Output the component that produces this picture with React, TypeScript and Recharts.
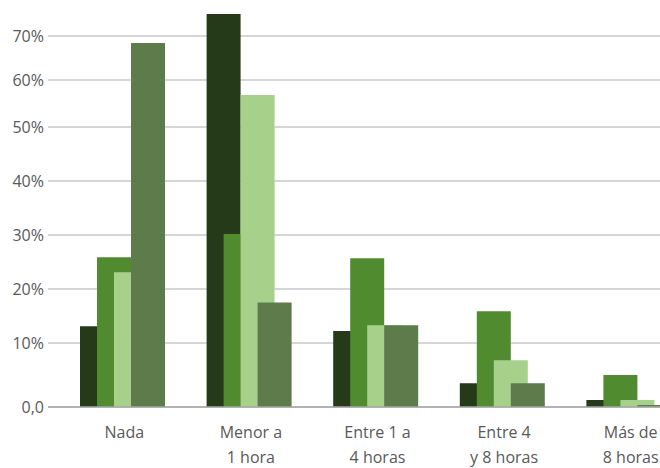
import { Bar, BarChart, CartesianGrid, XAxis, YAxis } from 'recharts';

// categories (line break = second line of the tick label)
const categories = ['Nada', 'Menor a\n1 hora', 'Entre 1 a\n4 horas', 'Entre 4\ny 8 horas', 'Más de\n8 horas'];

// four series, percent
const serieOscura = [13.1, 75, 12.2, 3.7, 1.1];
const serieVerde = [25.9, 30.2, 25.7, 15.9, 5.0];
const serieClara = [23.1, 56.8, 13.3, 7.3, 1.1];
const serieMedia = [68.4, 17.5, 13.3, 3.7, 0.3];

const yTicks = [0, 10, 20, 30, 40, 50, 60, 70];

const data = categories.map((name, i) => ({
  name,
  a: serieOscura[i],
  b: serieVerde[i],
  c: serieClara[i],
  d: serieMedia[i],
}));

// the original axis is not evenly spaced: knot values and their relative heights
const WARP_VALUES = [0, 10, 20, 30, 40, 50, 60, 70, 75];
const WARP_HEIGHTS = [0, 64, 118, 172, 226, 280, 327, 371, 393];

function warpScale(vals: number[], marks: number[], tickList: number[]): any {
  let dom = [vals[0], vals[vals.length - 1]];
  let rng = [0, 1];
  const total = marks[marks.length - 1];

  const frac = (v: number) => {
    let i = 0;
    while (i < vals.length - 2 && v > vals[i + 1]) i++;
    const t = (v - vals[i]) / (vals[i + 1] - vals[i]);
    return (marks[i] + t * (marks[i + 1] - marks[i])) / total;
  };
  const unfrac = (f: number) => {
    const h = f * total;
    let i = 0;
    while (i < marks.length - 2 && h > marks[i + 1]) i++;
    const t = (h - marks[i]) / (marks[i + 1] - marks[i]);
    return vals[i] + t * (vals[i + 1] - vals[i]);
  };

  const s: any = (v: number) => rng[0] + frac(v) * (rng[1] - rng[0]);
  s.domain = (d?: number[]) => {
    if (d === undefined) return dom.slice();
    dom = d.slice();
    return s;
  };
  s.range = (r?: number[]) => {
    if (r === undefined) return rng.slice();
    rng = r.slice();
    return s;
  };
  s.copy = () => warpScale(vals, marks, tickList).domain(dom).range(rng);
  s.ticks = () => tickList.slice();
  s.tickFormat = () => (v: number) => String(v);
  s.nice = () => s;
  s.clamp = () => s;
  s.invert = (px: number) => unfrac((px - rng[0]) / (rng[1] - rng[0]));
  return s;
}

const yScale = warpScale(WARP_VALUES, WARP_HEIGHTS, yTicks);

const FONT = '"Open Sans", sans-serif';
const TEXT = '#595959';

function CategoryTick({ x, y, payload }: any) {
  const lines = String(payload.value).split('\n');
  return (
    <text x={x + 2} y={y + 31} textAnchor="middle" fill={TEXT} fontSize={16} fontFamily={FONT}>
      {lines.map((l, i) => (
        <tspan key={i} x={x + 2} dy={i === 0 ? 0 : 25}>
          {l}
        </tspan>
      ))}
    </text>
  );
}

export default function App() {
  return (
    <div style={{ position: 'absolute', left: 0, top: 0, width: 660, height: 468, overflow: 'hidden', background: '#fff' }}>
      <BarChart
        width={692}
        height={468}
        data={data}
        margin={{ top: 14, right: 0, bottom: 0, left: 0 }}
        barGap={-17}
      >
        <CartesianGrid horizontal vertical={false} stroke="#c8c8c8" strokeWidth={1.5} horizontalValues={yTicks} />
        <XAxis
          dataKey="name"
          height={61}
          padding={{ left: 11, right: 0 }}
          axisLine={{ stroke: '#a6a6a6', strokeWidth: 1.5 }}
          tickLine={false}
          tickSize={0}
          tickMargin={0}
          interval={0}
          tick={<CategoryTick />}
        />
        <YAxis
          type="number"
          domain={[0, 75]}
          ticks={yTicks}
          scale={yScale}
          interval={0}
          width={48}
          axisLine={false}
          tickLine={false}
          tickSize={0}
          tickMargin={4}
          tick={{ fill: TEXT, fontSize: 16, fontFamily: FONT }}
          tickFormatter={(v: number) => (v === 0 ? '0,0' : `${v}%`)}
        />
        <Bar dataKey="a" fill="#253a19" barSize={34} isAnimationActive={false} />
        <Bar dataKey="b" fill="#518b30" barSize={34} isAnimationActive={false} />
        <Bar dataKey="c" fill="#a7d18b" barSize={34} isAnimationActive={false} />
        <Bar dataKey="d" fill="#5d7b4b" barSize={34} isAnimationActive={false} />
      </BarChart>
    </div>
  );
}
